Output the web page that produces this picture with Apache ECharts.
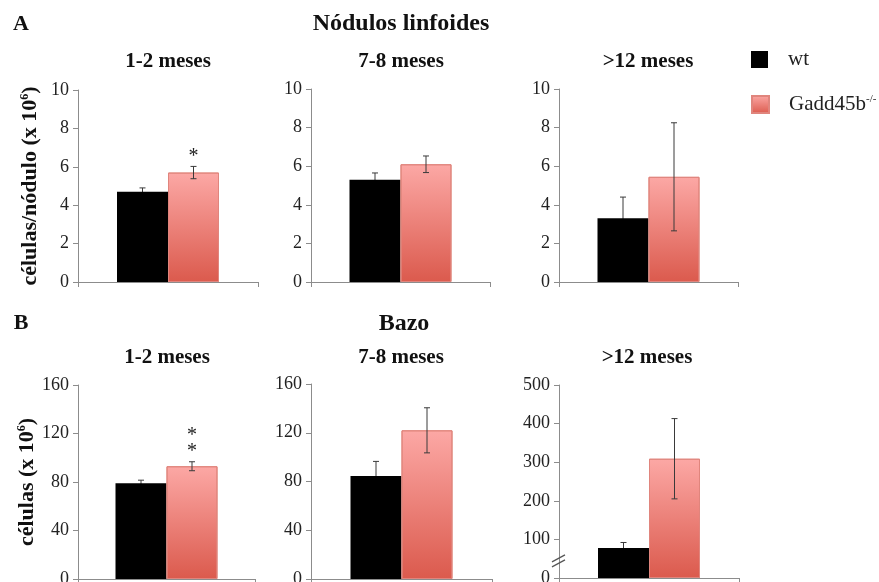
<!DOCTYPE html>
<html>
<head>
<meta charset="utf-8">
<script src="https://cdn.jsdelivr.net/npm/echarts@6/dist/echarts.min.js"></script>
<style>
  html, body { margin: 0; padding: 0; background: #fff; }
  #chart { width: 879px; height: 582px; }
</style>
</head>
<body>
<div id="chart"></div>
<script>
// ---- data ----------------------------------------------------------------
const periods = ['1-2 meses', '7-8 meses', '>12 meses'];
const seriesNames = ['wt', 'Gadd45b'];

// Nódulos linfoides: células/nódulo (x 10^6), mean and error
const nodulosWt = [4.7, 5.3, 3.3];
const nodulosWtErr = [0.2, 0.35, 1.1];
const nodulosKo = [5.7, 6.1, 5.45];
const nodulosKoErr = [0.32, 0.43, 2.8];
const nodulosSig = ['*', '', ''];

// Bazo: células (x 10^6), mean and error
const bazoWt = [79, 84.5, 78];
const bazoWtErr = [2.5, 12, 14];
const bazoKo = [93, 122, 309];
const bazoKoErr = [3.7, 18.5, 104];
const bazoSig = ['**', '', ''];

// value-axis ticks per panel
const nodulosAxisMax = [10, 10, 10];
const nodulosAxisStep = [2, 2, 2];
const bazoAxisMax = [160, 160, 500];
const bazoAxisStep = [40, 40, 100];

// ---- layout / style --------------------------------------------------------
const SERIF = "'Liberation Serif', 'Times New Roman', serif";
const AXIS_GREY = '#8c8c8c';
const BAR_W = 51;
// [left, top, width, height] of each panel's plot area
const gridRects = [
  [78, 90, 180, 192], [311, 89, 179, 193], [559, 89, 179, 193],
  [78, 385, 177, 194], [311, 384, 181, 195], [559, 385, 180, 193]
];

const koFill = new echarts.graphic.LinearGradient(0, 0, 0, 1, [
  { offset: 0, color: '#fca8a5' },
  { offset: 1, color: '#db5a4d' }
]);

// whisker (+ optional significance stars) centred on one bar of the pair
function errorBarRenderer(side, sig) {
  return function (params, api) {
    const cat = api.value(0), v = api.value(1), e = api.value(2);
    const mid = api.coord([cat, v]);
    const hi = api.coord([cat, v + e]);
    const lo = api.coord([cat, v - e]);
    const x = mid[0] + side * BAR_W / 2;
    const stroke = { stroke: '#3a3a3a', lineWidth: 1 };
    const children = [
      { type: 'line', shape: { x1: x, y1: hi[1], x2: x, y2: lo[1] }, style: stroke },
      { type: 'line', shape: { x1: x - 3, y1: hi[1], x2: x + 3, y2: hi[1] }, style: stroke },
      { type: 'line', shape: { x1: x - 3, y1: lo[1], x2: x + 3, y2: lo[1] }, style: stroke }
    ];
    if (sig) {
      children.push({
        type: 'text',
        x: x, y: hi[1] - 2,
        style: {
          text: sig.split('').join('\n'),
          font: '20px ' + SERIF,
          fill: '#222',
          align: 'center',
          verticalAlign: 'bottom',
          lineHeight: 16
        }
      });
    }
    return { type: 'group', children: children };
  };
}

const grids = [], xAxes = [], yAxes = [], series = [];

for (let p = 0; p < 6; p++) {
  const k = p % 3;
  const top = p < 3;
  const wt = top ? nodulosWt : bazoWt;
  const wtErr = top ? nodulosWtErr : bazoWtErr;
  const ko = top ? nodulosKo : bazoKo;
  const koErr = top ? nodulosKoErr : bazoKoErr;
  const sig = top ? nodulosSig : bazoSig;
  const r = gridRects[p];

  grids.push({
    left: r[0], top: r[1], width: r[2], height: r[3],
    containLabel: false, outerBoundsMode: 'none'
  });

  xAxes.push({
    type: 'category', gridIndex: p, data: [periods[k]],
    axisLine: { show: true, lineStyle: { color: AXIS_GREY, width: 1 } },
    axisTick: { show: true, length: 5, lineStyle: { color: AXIS_GREY } },
    axisLabel: { show: false },
    splitLine: { show: false }
  });

  const yAxis = {
    type: 'value', gridIndex: p,
    min: 0,
    max: top ? nodulosAxisMax[k] : bazoAxisMax[k],
    interval: top ? nodulosAxisStep[k] : bazoAxisStep[k],
    axisLine: { show: true, lineStyle: { color: AXIS_GREY, width: 1 } },
    axisTick: { show: true, length: 5, lineStyle: { color: AXIS_GREY } },
    axisLabel: { fontFamily: SERIF, fontSize: 18, color: '#222', margin: 9 },
    splitLine: { show: false }
  };
  if (k === 0) {
    yAxis.name = top ? '{b|células/nódulo (x 10}{s|6}{b|)}' : '{b|células (x 10}{s|6}{b|)}';
    yAxis.nameLocation = 'middle';
    yAxis.nameRotate = 90;
    yAxis.nameGap = 37;
    yAxis.nameTextStyle = {
      rich: {
        b: { fontFamily: SERIF, fontSize: 22, fontWeight: 'bold', color: '#111' },
        s: { fontFamily: SERIF, fontSize: 12, fontWeight: 'bold', color: '#111', verticalAlign: 'top' }
      }
    };
  }
  yAxes.push(yAxis);

  // wt whisker sits behind the black bar, so only its upper half shows
  series.push({
    type: 'custom', name: 'wt-error', xAxisIndex: p, yAxisIndex: p, z: 1, silent: true,
    renderItem: errorBarRenderer(-1, ''),
    data: [[0, wt[k], wtErr[k]]]
  });
  series.push({
    type: 'bar', name: seriesNames[0], xAxisIndex: p, yAxisIndex: p, z: 2,
    data: [wt[k]], barWidth: BAR_W, barGap: '0%',
    itemStyle: { color: '#000' }, silent: true
  });
  series.push({
    type: 'bar', name: seriesNames[1], xAxisIndex: p, yAxisIndex: p, z: 2,
    data: [ko[k]], barWidth: BAR_W, barGap: '0%',
    itemStyle: { color: koFill, borderColor: '#e0857d', borderWidth: 1 }, silent: true
  });
  series.push({
    type: 'custom', name: 'ko-error', xAxisIndex: p, yAxisIndex: p, z: 10, silent: true,
    renderItem: errorBarRenderer(1, sig[k]),
    data: [[0, ko[k], koErr[k]]]
  });
}

function heading(id, text, x, y, size) {
  return {
    id: id, type: 'text', x: x, y: y, silent: true,
    style: {
      text: text, font: 'bold ' + size + 'px ' + SERIF, fill: '#111',
      align: 'center', verticalAlign: 'middle'
    }
  };
}

const legendText = {
  fontFamily: SERIF, fontSize: 21, color: '#222',
  rich: {
    g: { width: 15 },
    n: { fontFamily: SERIF, fontSize: 21, color: '#222' },
    s: { fontFamily: SERIF, fontSize: 11, color: '#222', verticalAlign: 'top' }
  }
};
const legendFormatter = function (name) {
  return name === 'Gadd45b' ? '{g|}{n|Gadd45b}{s|-/-}' : '{g|}{n|' + name + '}';
};

const chart = echarts.init(document.getElementById('chart'), null, { renderer: 'canvas' });
chart.setOption({
  animation: false,
  backgroundColor: '#fff',
  grid: grids,
  xAxis: xAxes,
  yAxis: yAxes,
  legend: [
    { data: [seriesNames[0]], left: 751, top: 49, padding: 0, icon: 'rect', itemWidth: 17, itemHeight: 17,
      selectedMode: false, formatter: legendFormatter, textStyle: legendText },
    { data: [seriesNames[1]], left: 751, top: 94, padding: 0, icon: 'rect', itemWidth: 17, itemHeight: 17,
      selectedMode: false, formatter: legendFormatter, textStyle: legendText }
  ],
  series: series,
  graphic: [
    heading('hA', 'A', 21, 24, 22),
    heading('hB', 'B', 21, 323, 22),
    heading('hN', 'Nódulos linfoides', 401, 24, 24),
    heading('hBz', 'Bazo', 404, 324, 24),
    heading('p0', periods[0], 168, 62, 21),
    heading('p1', periods[1], 401, 62, 21),
    heading('p2', periods[2], 648, 62, 21),
    heading('p3', periods[0], 167, 358, 21),
    heading('p4', periods[1], 401, 358, 21),
    heading('p5', periods[2], 647, 358, 21)
  ]
});

// axis-break mark on the >12 meses spleen axis, placed through the axis scale
const breakAt = chart.convertToPixel({ gridIndex: 5 }, [0, 47]);
const axisX = gridRects[5][0];
chart.setOption({
  graphic: [
    { id: 'brk1', type: 'line', silent: true, z: 20,
      shape: { x1: axisX - 7, y1: breakAt[1] + 2, x2: axisX + 6, y2: breakAt[1] - 5 },
      style: { stroke: '#555', lineWidth: 1.2 } },
    { id: 'brk2', type: 'line', silent: true, z: 20,
      shape: { x1: axisX - 7, y1: breakAt[1] + 7, x2: axisX + 6, y2: breakAt[1] },
      style: { stroke: '#555', lineWidth: 1.2 } }
  ]
});
</script>
</body>
</html>
